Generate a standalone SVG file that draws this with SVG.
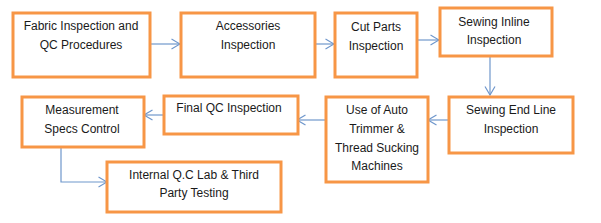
<svg xmlns="http://www.w3.org/2000/svg" width="601" height="223" viewBox="0 0 601 223">
<style>
.box{fill:#fff;stroke:#F79646;stroke-width:3}
.t{font-family:"Liberation Sans",Arial,sans-serif;font-size:12px;fill:#1a1a1a;text-anchor:middle}
.c{fill:none;stroke:#6F97CC;stroke-width:1.2}
</style>
<defs>
<marker id="ah" viewBox="0 0 10 12" refX="9.5" refY="6" markerWidth="10" markerHeight="12" markerUnits="userSpaceOnUse" orient="auto">
<path d="M1,1 L9.5,6 L1,11" fill="none" stroke="#6F97CC" stroke-width="1.2"/>
</marker>
</defs>
<rect width="601" height="223" fill="#fff"/>
<g id="connectors">
<path class="c" d="M150,44 H180" marker-end="url(#ah)"/>
<path class="c" d="M316,44 H334" marker-end="url(#ah)"/>
<path class="c" d="M417,40 H439" marker-end="url(#ah)"/>
<path class="c" d="M490,56 V95" marker-end="url(#ah)"/>
<path class="c" d="M449,120 H428" marker-end="url(#ah)"/>
<path class="c" d="M326,120 H297" marker-end="url(#ah)"/>
<path class="c" d="M164,115 H144" marker-end="url(#ah)"/>
<path class="c" d="M61,147 V182 H107" marker-end="url(#ah)"/>
</g>
<g id="n1"><rect class="box" x="13" y="13" width="137" height="64"/><text class="t" x="81" y="30">Fabric Inspection and</text><text class="t" x="81" y="49">QC Procedures</text></g>
<g id="n2"><rect class="box" x="181" y="13" width="134" height="64"/><text class="t" x="248" y="30">Accessories</text><text class="t" x="248" y="49">Inspection</text></g>
<g id="n3"><rect class="box" x="335" y="13" width="82" height="64"/><text class="t" x="376" y="31">Cut Parts</text><text class="t" x="376" y="50">Inspection</text></g>
<g id="n4"><rect class="box" x="440" y="8" width="112" height="48"/><text class="t" x="494" y="26">Sewing Inline</text><text class="t" x="494" y="44">Inspection</text></g>
<g id="n5"><rect class="box" x="449" y="97" width="124" height="56"/><text class="t" x="511" y="114">Sewing End Line</text><text class="t" x="511" y="133">Inspection</text></g>
<g id="n6"><rect class="box" x="326" y="97" width="102" height="85"/><text class="t" x="377" y="114">Use of Auto</text><text class="t" x="377" y="133">Trimmer &amp;</text><text class="t" x="377" y="152">Thread Sucking</text><text class="t" x="377" y="170">Machines</text></g>
<g id="n7"><rect class="box" x="164" y="96" width="134" height="38"/><text class="t" x="229" y="112">Final QC Inspection</text></g>
<g id="n8"><rect class="box" x="22" y="97" width="122" height="50"/><text class="t" x="82" y="114">Measurement</text><text class="t" x="82" y="133">Specs Control</text></g>
<g id="n9"><rect class="box" x="107" y="162" width="174" height="50"/><text class="t" x="194" y="179">Internal Q.C Lab &amp; Third</text><text class="t" x="194" y="197">Party Testing</text></g>
</svg>
